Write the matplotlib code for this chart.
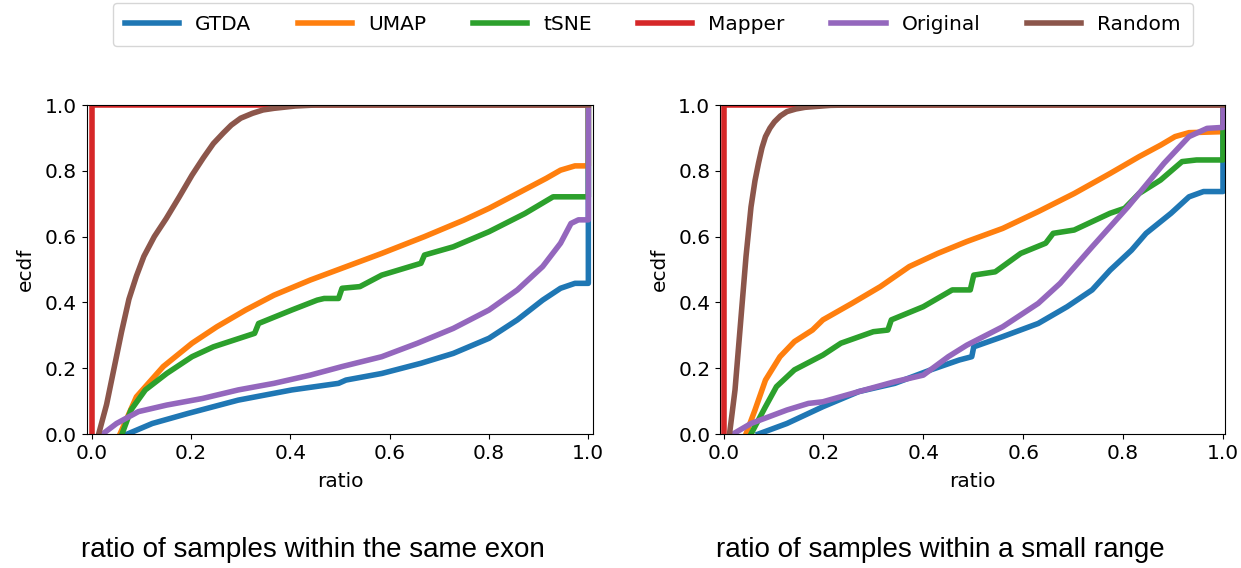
import matplotlib
matplotlib.use("Agg")
import matplotlib.pyplot as plt

# -----------------------------
# data (ecdf curves)
# -----------------------------
methods = ["GTDA", "UMAP", "tSNE", "Mapper", "Original", "Random"]
colors = ["#1f77b4", "#ff7f0e", "#2ca02c", "#d62728", "#9467bd", "#8c564b"]

# left panel: ratio of samples within the same exon
exon_gtda_x = [0.072, 0.122, 0.195, 0.295, 0.403, 0.497, 0.512, 0.584, 0.663, 0.728, 0.8, 0.857, 0.908, 0.944, 0.973, 1.0, 1.0]
exon_gtda_y = [0.0, 0.032, 0.063, 0.103, 0.134, 0.154, 0.164, 0.184, 0.215, 0.245, 0.291, 0.347, 0.407, 0.443, 0.458, 0.458, 1.0]
exon_umap_x = [0.057, 0.09, 0.144, 0.202, 0.252, 0.31, 0.367, 0.44, 0.504, 0.584, 0.67, 0.749, 0.8, 0.857, 0.915, 0.944, 0.973, 1.0, 1.0]
exon_umap_y = [0.0, 0.113, 0.205, 0.276, 0.326, 0.377, 0.422, 0.468, 0.504, 0.549, 0.6, 0.65, 0.686, 0.731, 0.777, 0.802, 0.815, 0.815, 1.0]
exon_tsne_x = [0.061, 0.079, 0.108, 0.151, 0.202, 0.245, 0.328, 0.336, 0.403, 0.454, 0.468, 0.497, 0.504, 0.54, 0.584, 0.663, 0.67, 0.728, 0.8, 0.872, 0.929, 0.958, 1.0, 1.0]
exon_tsne_y = [0.0, 0.073, 0.134, 0.184, 0.235, 0.265, 0.306, 0.336, 0.377, 0.407, 0.412, 0.412, 0.443, 0.448, 0.483, 0.519, 0.544, 0.569, 0.615, 0.67, 0.721, 0.721, 0.721, 1.0]
exon_mapper_x = [0.0, 0.0, 1.0]
exon_mapper_y = [0.0, 1.0, 1.0]
exon_orig_x = [0.022, 0.05, 0.094, 0.151, 0.223, 0.295, 0.367, 0.44, 0.504, 0.584, 0.656, 0.728, 0.8, 0.857, 0.908, 0.944, 0.965, 0.98, 1.0, 1.0]
exon_orig_y = [0.0, 0.032, 0.068, 0.088, 0.108, 0.134, 0.154, 0.179, 0.205, 0.235, 0.276, 0.321, 0.377, 0.438, 0.509, 0.58, 0.64, 0.651, 0.651, 1.0]
exon_rand_x = [0.014, 0.03, 0.045, 0.06, 0.075, 0.09, 0.105, 0.126, 0.15, 0.176, 0.202, 0.225, 0.245, 0.265, 0.281, 0.3, 0.324, 0.345, 0.367, 0.41, 0.45, 1.0]
exon_rand_y = [0.0, 0.09, 0.2, 0.31, 0.41, 0.48, 0.54, 0.6, 0.655, 0.72, 0.787, 0.84, 0.883, 0.915, 0.939, 0.96, 0.975, 0.985, 0.99, 0.997, 1.0, 1.0]

# right panel: ratio of samples within a small range
range_gtda_x = [0.07, 0.127, 0.199, 0.271, 0.343, 0.415, 0.472, 0.497, 0.501, 0.559, 0.63, 0.688, 0.738, 0.774, 0.817, 0.846, 0.896, 0.932, 0.961, 1.0, 1.0]
range_gtda_y = [0.0, 0.032, 0.083, 0.129, 0.154, 0.195, 0.225, 0.235, 0.265, 0.296, 0.336, 0.387, 0.438, 0.498, 0.559, 0.61, 0.671, 0.721, 0.737, 0.737, 1.0]
range_umap_x = [0.045, 0.063, 0.084, 0.113, 0.142, 0.178, 0.199, 0.257, 0.314, 0.372, 0.429, 0.487, 0.559, 0.63, 0.702, 0.774, 0.832, 0.875, 0.904, 0.932, 1.0, 1.0]
range_umap_y = [0.0, 0.073, 0.164, 0.235, 0.281, 0.316, 0.347, 0.397, 0.448, 0.509, 0.549, 0.585, 0.625, 0.676, 0.731, 0.792, 0.843, 0.878, 0.904, 0.916, 0.919, 1.0]
range_tsne_x = [0.055, 0.084, 0.106, 0.142, 0.199, 0.235, 0.3, 0.329, 0.336, 0.4, 0.458, 0.494, 0.501, 0.544, 0.595, 0.645, 0.66, 0.702, 0.774, 0.803, 0.832, 0.875, 0.918, 0.947, 1.0, 1.0]
range_tsne_y = [0.0, 0.083, 0.144, 0.195, 0.24, 0.276, 0.311, 0.316, 0.347, 0.387, 0.438, 0.438, 0.483, 0.493, 0.549, 0.58, 0.61, 0.62, 0.671, 0.686, 0.731, 0.772, 0.828, 0.833, 0.833, 1.0]
range_mapper_x = [0.0, 0.0, 1.0]
range_mapper_y = [0.0, 1.0, 1.0]
range_orig_x = [0.019, 0.055, 0.127, 0.17, 0.199, 0.271, 0.343, 0.4, 0.45, 0.487, 0.559, 0.63, 0.674, 0.738, 0.81, 0.882, 0.932, 0.968, 1.0, 1.0]
range_orig_y = [0.0, 0.032, 0.073, 0.093, 0.098, 0.129, 0.159, 0.179, 0.235, 0.27, 0.326, 0.397, 0.458, 0.569, 0.691, 0.823, 0.904, 0.929, 0.932, 1.0]
range_rand_x = [0.012, 0.023, 0.034, 0.045, 0.055, 0.063, 0.07, 0.077, 0.084, 0.093, 0.102, 0.114, 0.127, 0.145, 0.163, 0.214, 0.25, 1.0]
range_rand_y = [0.0, 0.134, 0.336, 0.539, 0.69, 0.77, 0.823, 0.87, 0.904, 0.93, 0.949, 0.967, 0.98, 0.988, 0.993, 0.999, 1.0, 1.0]

panels = [
    ([exon_gtda_x, exon_umap_x, exon_tsne_x, exon_mapper_x, exon_orig_x, exon_rand_x],
     [exon_gtda_y, exon_umap_y, exon_tsne_y, exon_mapper_y, exon_orig_y, exon_rand_y],
     "ratio of samples within the same exon", (-0.01, 1.01)),
    ([range_gtda_x, range_umap_x, range_tsne_x, range_mapper_x, range_orig_x, range_rand_x],
     [range_gtda_y, range_umap_y, range_tsne_y, range_mapper_y, range_orig_y, range_rand_y],
     "ratio of samples within a small range", (-0.007, 1.004)),
]

# -----------------------------
# figure
# -----------------------------
fig = plt.figure(figsize=(12.41, 5.68), dpi=100)
axes = [fig.add_axes([0.0699, 0.2359, 0.4082, 0.5792]),
        fig.add_axes([0.5802, 0.2359, 0.4069, 0.5792])]

caption_x = [0.252, 0.758]
for ax, (xs, ys, caption, xlim), cx in zip(axes, panels, caption_x):
    for name, c, x, y in zip(methods, colors, xs, ys):
        ax.plot(x, y, color=c, lw=4, label=name)
    ax.set_xlim(*xlim)
    ax.set_ylim(0, 1)
    ax.set_xticks([0, 0.2, 0.4, 0.6, 0.8, 1.0])
    ax.set_yticks([0, 0.2, 0.4, 0.6, 0.8, 1.0])
    ax.tick_params(labelsize=14.5)
    ax.set_xlabel("ratio", fontsize=14.5, labelpad=7)
    ax.set_ylabel("ecdf", fontsize=14.5, labelpad=7)
    fig.text(cx, 0.032, caption, ha="center", va="center",
             fontsize=20, family="Liberation Sans")

handles, labels = axes[0].get_legend_handles_labels()
fig.legend(handles, labels, loc="upper center", bbox_to_anchor=(0.526, 1.012),
           ncol=6, fontsize=14.5, handlelength=2.7, columnspacing=2.3,
           borderpad=0.6)

plt.savefig("out.png", dpi=100)
